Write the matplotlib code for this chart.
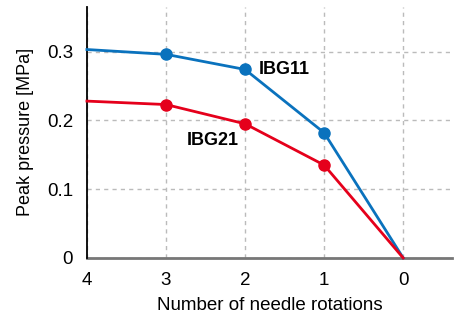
import matplotlib
matplotlib.use("Agg")
import matplotlib.pyplot as plt

rotations = [4, 3, 2, 1, 0]
ibg11 = [0.303, 0.296, 0.274, 0.182, 0.0]
ibg21 = [0.228, 0.223, 0.195, 0.135, 0.0]
xticks = [4, 3, 2, 1, 0]
yticks = [0, 0.1, 0.2, 0.3]
ytick_labels = ["0", "0.1", "0.2", "0.3"]

plt.rcParams['font.family'] = ['Liberation Sans', 'DejaVu Sans']

fig = plt.figure(figsize=(4.6, 3.13), dpi=100)
ax = fig.add_axes([0.189, 0.176, 0.794, 0.802])

blue = '#0a72bd'
red = '#e5001b'

ax.plot(rotations, ibg11, color=blue, lw=2, marker='o', ms=8, markevery=[1, 2, 3], zorder=3, clip_on=False)
ax.plot(rotations, ibg21, color=red, lw=2, marker='o', ms=8, markevery=[1, 2, 3], zorder=3, clip_on=False)

ax.text(1.832, 0.268, "IBG11", fontsize=13, fontweight='bold', va='baseline', ha='left')
ax.text(2.076, 0.164, "IBG21", fontsize=13, fontweight='bold', va='baseline', ha='right')

ax.set_xlim(4, -0.62)
ax.set_ylim(0, 0.365)
ax.set_xticks(xticks)
ax.set_xticklabels([str(v) for v in xticks])
ax.set_yticks(yticks)
ax.set_yticklabels(ytick_labels)

ax.grid(True, color='#bbbbbb', linestyle=(0, (3, 3)), lw=1)
ax.set_axisbelow(True)

for s in ['top', 'right']:
    ax.spines[s].set_visible(False)
ax.spines['left'].set_color('black')
ax.spines['left'].set_linewidth(1.3)
ax.spines['bottom'].set_color('#777777')
ax.spines['bottom'].set_linewidth(2)
ax.spines['bottom'].set_zorder(2)

ax.tick_params(axis='both', length=0, labelsize=13.5, pad=10)
ax.tick_params(axis='y', pad=10)
ax.set_xlabel("Number of needle rotations", fontsize=13.5, labelpad=6)
ax.set_ylabel("Peak pressure [MPa]", fontsize=13, labelpad=9)

fig.savefig("out.png", dpi=100)
